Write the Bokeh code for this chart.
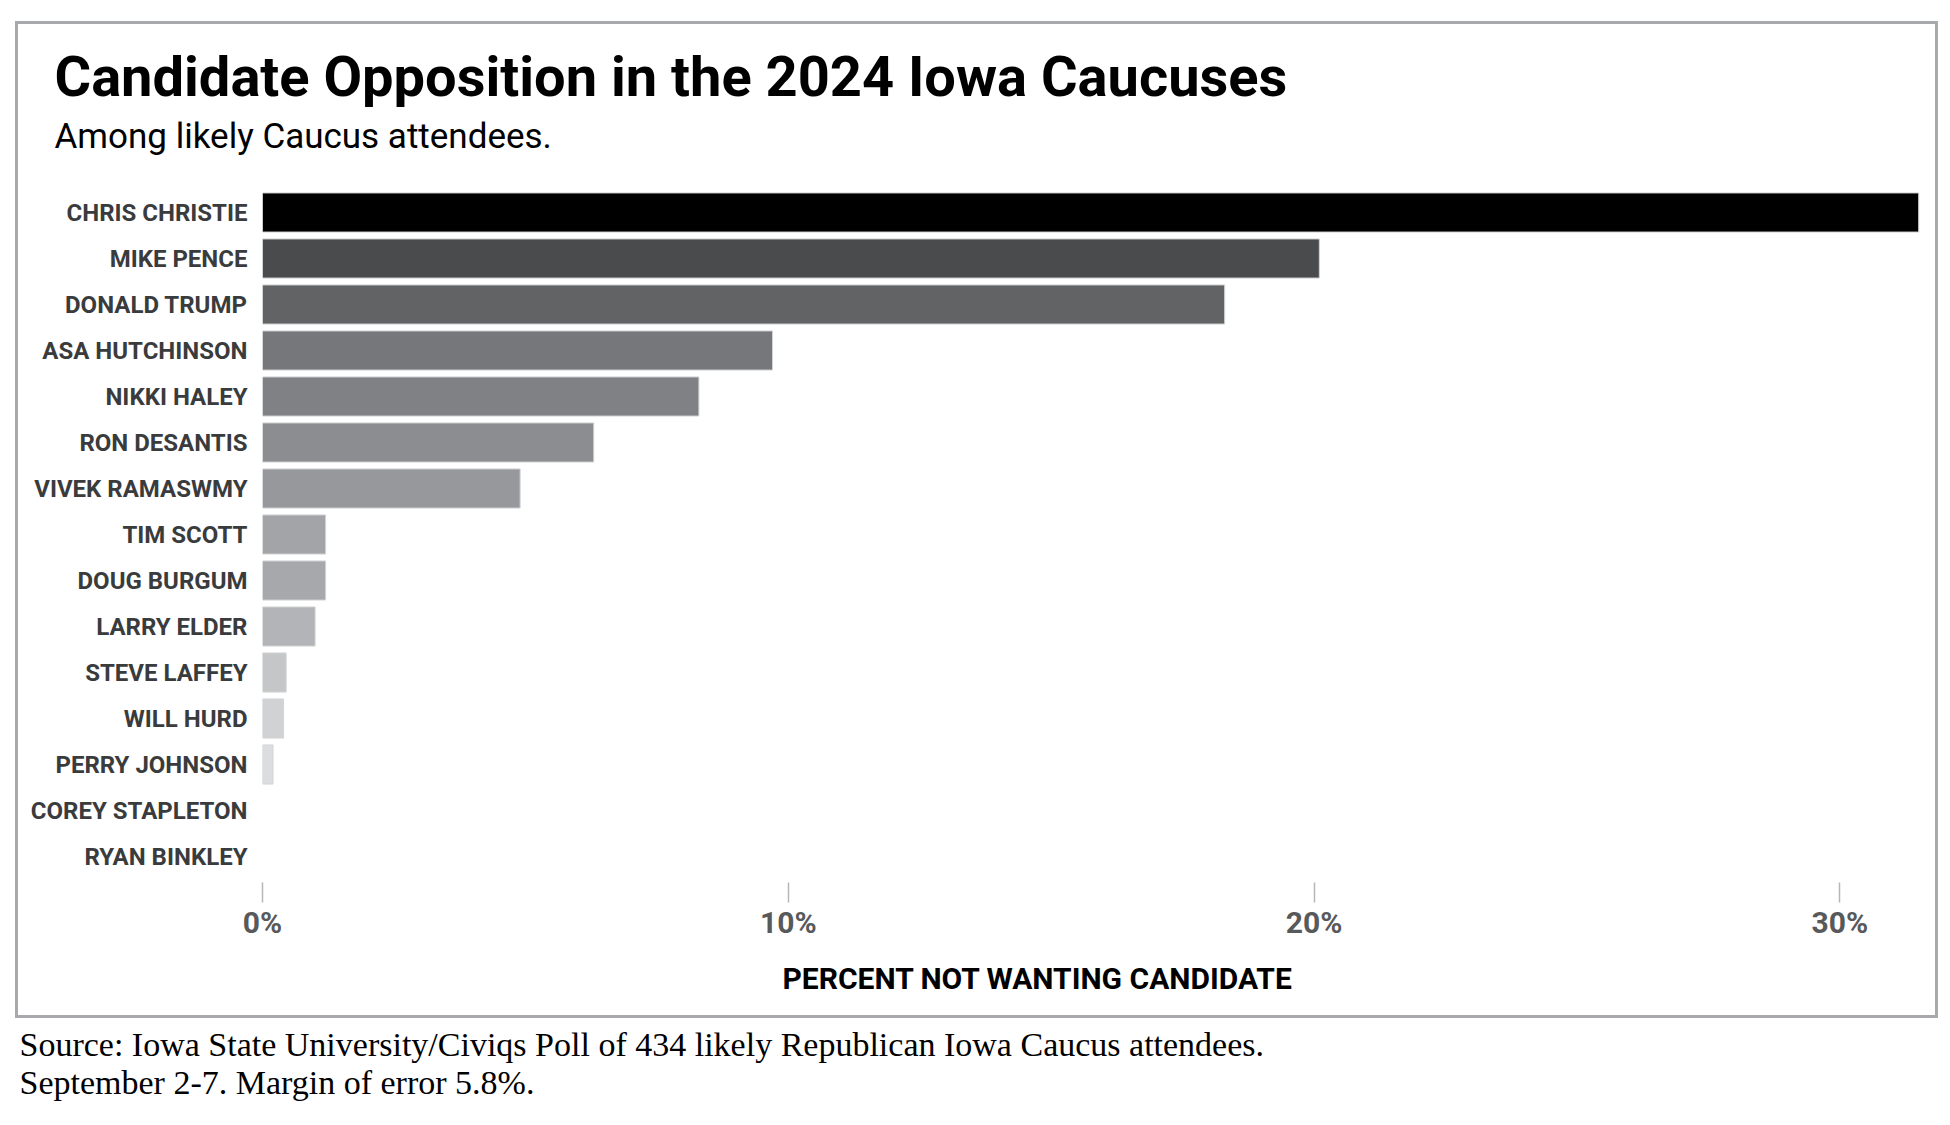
from bokeh.plotting import figure
from bokeh.models import Title, FixedTicker, Range1d, FactorRange, ColumnDataSource, InlineStyleSheet
from bokeh.embed import file_html
from bokeh.resources import INLINE

# ---------------- data ----------------
candidates = ["CHRIS CHRISTIE", "MIKE PENCE", "DONALD TRUMP", "ASA HUTCHINSON",
              "NIKKI HALEY", "RON DESANTIS", "VIVEK RAMASWMY", "TIM SCOTT",
              "DOUG BURGUM", "LARRY ELDER", "STEVE LAFFEY", "WILL HURD",
              "PERRY JOHNSON", "COREY STAPLETON", "RYAN BINKLEY"]
percent_not_wanting = [31.5, 20.1, 18.3, 9.7, 8.3, 6.3, 4.9, 1.2, 1.2, 1.0,
                       0.45, 0.4, 0.2, 0.0, 0.0]
bar_colors = ["#000000", "#4a4b4d", "#626365", "#76777a", "#808184", "#8c8d90",
              "#97989b", "#a3a4a7", "#a7a8ab", "#b3b4b7", "#c5c6c8", "#d1d2d4",
              "#dcdddf", "#e6e7e8", "#e6e7e8"]
x_ticks = [0, 10, 20, 30]
x_tick_labels = ["0%", "10%", "20%", "30%"]

title_text = "Candidate Opposition in the 2024 Iowa Caucuses"
subtitle_text = "Among likely Caucus attendees."
x_axis_title = "PERCENT NOT WANTING CANDIDATE"
source_lines = ["Source: Iowa State University/Civiqs Poll of 434 likely Republican Iowa Caucus attendees.",
                "September 2-7. Margin of error 5.8%."]

SANS = "Roboto"
SERIF = "Liberation Serif"

outline_alpha = [1.0 if v > 0 else 0.0 for v in percent_not_wanting]
src = ColumnDataSource(dict(name=candidates, value=percent_not_wanting,
                            color=bar_colors, la=outline_alpha))

W, H = 1945, 1120
FRAME_LEFT, FRAME_TOP, FRAME_BOTTOM = 262, 189, 879

# thin gray frame around the chart (outer box of the graphic)
box_css = InlineStyleSheet(css="""
:host::after {
  content: "";
  position: absolute;
  left: 15px; top: 21px;
  width: 1923px; height: 997px;
  border: 3px solid #a7a9ac;
  box-sizing: border-box;
  pointer-events: none;
}
""")

p = figure(width=W, height=H,
           y_range=FactorRange(*candidates[::-1], range_padding=0),
           x_range=Range1d(0, 31.61),
           output_backend="svg", toolbar_location=None,
           min_border_left=FRAME_LEFT, min_border_right=21,
           min_border_top=FRAME_TOP, min_border_bottom=H - FRAME_BOTTOM,
           stylesheets=[box_css])

p.hbar(y="name", left=0, right="value", height=0.85, fill_color="color",
       line_color="#d1d3d4", line_alpha="la", line_width=1, source=src)

p.background_fill_color = "white"
p.border_fill_color = "white"
p.outline_line_color = None
p.xgrid.grid_line_color = None
p.ygrid.grid_line_color = None

xa = p.xaxis[0]
xa.ticker = FixedTicker(ticks=x_ticks)
xa.major_label_overrides = {t: s for t, s in zip(x_ticks, x_tick_labels)}
xa.axis_line_color = None
xa.major_tick_line_color = "#b5b6b8"
xa.major_tick_line_width = 1.5
xa.major_tick_in = -3
xa.major_tick_out = 23
xa.minor_tick_line_color = None
xa.major_label_standoff = 2
xa.major_label_text_font = SANS
xa.major_label_text_font_style = "bold"
xa.major_label_text_font_size = "30px"
xa.major_label_text_color = "#58595b"

ya = p.yaxis[0]
ya.axis_line_color = None
ya.major_tick_line_color = None
ya.minor_tick_line_color = None
ya.major_tick_out = 0
ya.major_tick_in = 0
ya.major_label_standoff = 15
ya.major_label_text_font = SANS
ya.major_label_text_font_style = "bold"
ya.major_label_text_font_size = "24px"
ya.major_label_text_color = "#3a3b3d"

# titles above (first added sits closest to the frame)
p.add_layout(Title(text=subtitle_text, align="left", offset=54 - FRAME_LEFT, standoff=65,
                   text_font=SANS, text_font_style="normal", text_font_size="35px",
                   text_color="#000000"), "above")
p.add_layout(Title(text=title_text, align="left", offset=54 - FRAME_LEFT, standoff=-57,
                   text_font=SANS, text_font_style="bold", text_font_size="56px",
                   text_color="#000000"), "above")

# x-axis title, placed under the tick labels, centred where the original has it
p.add_layout(Title(text=x_axis_title, align="left", offset=782 - FRAME_LEFT, standoff=32,
                   text_font=SANS, text_font_style="bold", text_font_size="30px",
                   text_color="#000000"), "below")

# source notes below the box
p.add_layout(Title(text=source_lines[0], align="left", offset=19 - FRAME_LEFT, standoff=25,
                   text_font=SERIF, text_font_style="normal", text_font_size="34px",
                   text_color="#000000"), "below")
p.add_layout(Title(text=source_lines[1], align="left", offset=19 - FRAME_LEFT, standoff=-28,
                   text_font=SERIF, text_font_style="normal", text_font_size="34px",
                   text_color="#000000"), "below")

open("out.html", "w").write(file_html(p, INLINE))
